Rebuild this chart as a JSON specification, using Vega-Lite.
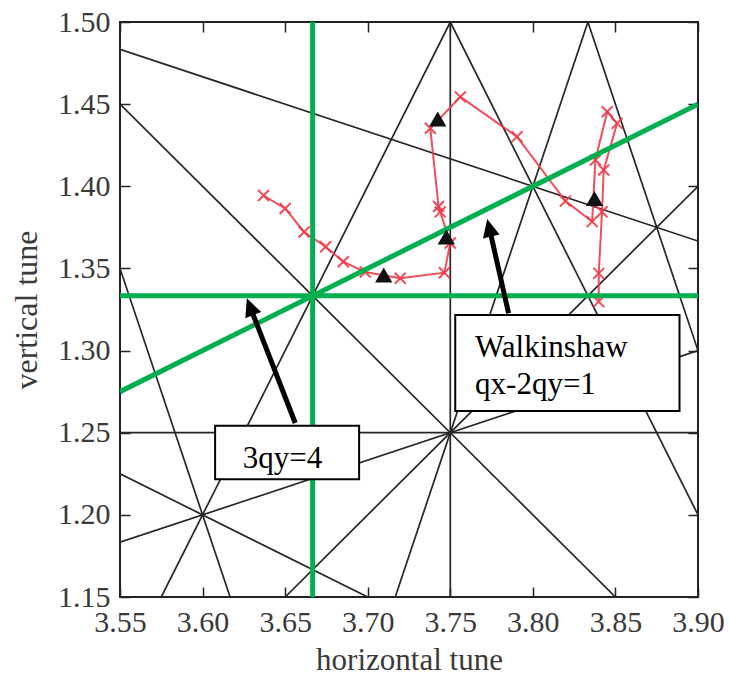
{
  "$schema": "https://vega.github.io/schema/vega-lite/v6.json",
  "width": 578,
  "height": 575,
  "autosize": {"type": "none"},
  "padding": {"left": 120, "top": 22, "right": 31, "bottom": 82},
  "background": "white",
  "config": {"view": {"stroke": "#222", "strokeWidth": 2}, "font": "Liberation Serif"},
  "datasets": {
    "res": [
      {"id": "a", "qx": 3.75, "qy": 1.15}, {"id": "a", "qx": 3.75, "qy": 1.5},
      {"id": "b", "qx": 3.55, "qy": 1.25}, {"id": "b", "qx": 3.9, "qy": 1.25},
      {"id": "c", "qx": 3.55, "qy": 1.483333}, {"id": "c", "qx": 3.9, "qy": 1.366667},
      {"id": "d", "qx": 3.55, "qy": 1.45}, {"id": "d", "qx": 3.85, "qy": 1.15},
      {"id": "e", "qx": 3.575, "qy": 1.15}, {"id": "e", "qx": 3.75, "qy": 1.5},
      {"id": "f", "qx": 3.75, "qy": 1.5}, {"id": "f", "qx": 3.9, "qy": 1.2},
      {"id": "g", "qx": 3.716667, "qy": 1.15}, {"id": "g", "qx": 3.833333, "qy": 1.5},
      {"id": "h", "qx": 3.833333, "qy": 1.5}, {"id": "h", "qx": 3.9, "qy": 1.3},
      {"id": "i", "qx": 3.55, "qy": 1.225}, {"id": "i", "qx": 3.7, "qy": 1.15},
      {"id": "j", "qx": 3.55, "qy": 1.183333}, {"id": "j", "qx": 3.9, "qy": 1.3},
      {"id": "k", "qx": 3.55, "qy": 1.35}, {"id": "k", "qx": 3.616667, "qy": 1.15},
      {"id": "l", "qx": 3.65, "qy": 1.15}, {"id": "l", "qx": 3.9, "qy": 1.4}
    ],
    "green": [
      {"id": "v", "qx": 3.666667, "qy": 1.15}, {"id": "v", "qx": 3.666667, "qy": 1.5},
      {"id": "h", "qx": 3.55, "qy": 1.333333}, {"id": "h", "qx": 3.9, "qy": 1.333333},
      {"id": "w", "qx": 3.55, "qy": 1.275}, {"id": "w", "qx": 3.9, "qy": 1.45}
    ],
    "track": [
      {"i": 1, "qx": 3.6369, "qy": 1.3944},
      {"i": 2, "qx": 3.65, "qy": 1.3865},
      {"i": 3, "qx": 3.6615, "qy": 1.3722},
      {"i": 4, "qx": 3.6745, "qy": 1.3632},
      {"i": 5, "qx": 3.6852, "qy": 1.3541},
      {"i": 6, "qx": 3.6985, "qy": 1.3478},
      {"i": 7, "qx": 3.7197, "qy": 1.344},
      {"i": 8, "qx": 3.7464, "qy": 1.3474},
      {"i": 9, "qx": 3.75, "qy": 1.3655},
      {"i": 10, "qx": 3.7439, "qy": 1.3844},
      {"i": 11, "qx": 3.7429, "qy": 1.3877},
      {"i": 12, "qx": 3.7379, "qy": 1.4353},
      {"i": 13, "qx": 3.7561, "qy": 1.4544},
      {"i": 14, "qx": 3.7904, "qy": 1.4302},
      {"i": 15, "qx": 3.8197, "qy": 1.391},
      {"i": 16, "qx": 3.8359, "qy": 1.3785},
      {"i": 17, "qx": 3.8379, "qy": 1.416},
      {"i": 18, "qx": 3.845, "qy": 1.4454},
      {"i": 19, "qx": 3.851, "qy": 1.4383},
      {"i": 20, "qx": 3.8429, "qy": 1.4099},
      {"i": 21, "qx": 3.8419, "qy": 1.3845},
      {"i": 22, "qx": 3.8399, "qy": 1.347},
      {"i": 23, "qx": 3.8399, "qy": 1.3298}
    ],
    "tri": [
      {"qx": 3.7097, "qy": 1.346},
      {"qx": 3.7476, "qy": 1.3691},
      {"qx": 3.7424, "qy": 1.441},
      {"qx": 3.8373, "qy": 1.3926}
    ],
    "boxes": [
      {"x1": 3.6076, "x2": 3.6948, "y1": 1.2543, "y2": 1.2217},
      {"x1": 3.753, "x2": 3.8888, "y1": 1.3217, "y2": 1.2632}
    ],
    "texts": [
      {"label": "3qy=4", "qx": 3.6244, "qy": 1.2285},
      {"label": "Walkinshaw", "qx": 3.765, "qy": 1.2961},
      {"label": "qx-2qy=1", "qx": 3.765, "qy": 1.2734}
    ],
    "arrows": [
      {"x1": 3.6561, "y1": 1.2559, "x2": 3.6294, "y2": 1.325},
      {"x1": 3.7853, "y1": 1.3227, "x2": 3.774, "y2": 1.373}
    ],
    "head1": [{"qx": 3.6294, "qy": 1.325}],
    "head2": [{"qx": 3.774, "qy": 1.373}]
  },
  "resolve": {"axis": {"x": "independent", "y": "independent"}},
  "layer": [
    {
      "data": {"name": "res"},
      "mark": {"type": "line", "color": "#262626", "strokeWidth": 1.7, "clip": true},
      "encoding": {
        "x": {"field": "qx", "type": "quantitative",
          "scale": {"domain": [3.55, 3.9], "nice": false, "zero": false},
          "axis": {"orient": "bottom", "title": "horizontal tune",
            "values": [3.55, 3.6, 3.65, 3.7, 3.75, 3.8, 3.85, 3.9], "format": ".2f",
            "tickSize": -10, "labelPadding": 20, "domain": false, "grid": false,
            "labelFlush": false, "labelOverlap": false,
            "tickColor": "#222", "tickWidth": 1.5,
            "labelFont": "Liberation Serif", "labelFontSize": 30, "labelColor": "#3a3a3a",
            "titleFont": "Liberation Serif", "titleFontSize": 31, "titleFontWeight": "normal",
            "titleColor": "#3a3a3a", "titlePadding": 8}},
        "y": {"field": "qy", "type": "quantitative",
          "scale": {"domain": [1.15, 1.5], "nice": false, "zero": false},
          "axis": {"orient": "left", "title": "vertical tune",
            "values": [1.15, 1.2, 1.25, 1.3, 1.35, 1.4, 1.45, 1.5], "format": ".2f",
            "tickSize": -10, "labelPadding": 20, "domain": false, "grid": false,
            "labelFlush": false, "labelOverlap": false,
            "tickColor": "#222", "tickWidth": 1.5,
            "labelFont": "Liberation Serif", "labelFontSize": 30, "labelColor": "#3a3a3a",
            "titleFont": "Liberation Serif", "titleFontSize": 32, "titleFontWeight": "normal",
            "titleColor": "#3a3a3a", "titlePadding": 14}},
        "detail": {"field": "id"}
      }
    },
    {
      "data": {"name": "track"},
      "mark": {"type": "line", "color": "#f23a48", "strokeWidth": 2, "opacity": 0.9, "clip": true},
      "encoding": {
        "x": {"field": "qx", "type": "quantitative", "axis": null},
        "y": {"field": "qy", "type": "quantitative", "axis": null},
        "order": {"field": "i"}
      }
    },
    {
      "data": {"name": "track"},
      "mark": {"type": "point", "shape": "M-1,-1L1,1M-1,1L1,-1", "size": 120, "filled": false, "stroke": "#f23a48", "strokeWidth": 2, "opacity": 0.9},
      "encoding": {
        "x": {"field": "qx", "type": "quantitative", "axis": null},
        "y": {"field": "qy", "type": "quantitative", "axis": null}
      }
    },
    {
      "data": {"name": "green"},
      "mark": {"type": "line", "color": "#00b050", "strokeWidth": 5, "clip": true},
      "encoding": {
        "x": {"field": "qx", "type": "quantitative",
          "axis": {"orient": "top", "title": null, "labels": false,
            "values": [3.55, 3.6, 3.65, 3.7, 3.75, 3.8, 3.85, 3.9],
            "tickSize": -10, "domain": false, "grid": false, "tickColor": "#222", "tickWidth": 1.5}},
        "y": {"field": "qy", "type": "quantitative",
          "axis": {"orient": "right", "title": null, "labels": false,
            "values": [1.15, 1.2, 1.25, 1.3, 1.35, 1.4, 1.45, 1.5],
            "tickSize": -10, "domain": false, "grid": false, "tickColor": "#222", "tickWidth": 1.5}},
        "detail": {"field": "id"}
      }
    },
    {
      "data": {"name": "tri"},
      "mark": {"type": "point", "shape": "triangle-up", "size": 300, "filled": true, "color": "#111", "opacity": 1},
      "encoding": {
        "x": {"field": "qx", "type": "quantitative", "axis": null},
        "y": {"field": "qy", "type": "quantitative", "axis": null}
      }
    },
    {
      "data": {"name": "arrows"},
      "mark": {"type": "rule", "color": "black", "strokeWidth": 5},
      "encoding": {
        "x": {"field": "x1", "type": "quantitative", "axis": null},
        "y": {"field": "y1", "type": "quantitative", "axis": null},
        "x2": {"field": "x2"},
        "y2": {"field": "y2"}
      }
    },
    {
      "data": {"name": "head1"},
      "mark": {"type": "point", "shape": "M0,-1.2L0.85,0.6L-0.85,0.6Z", "size": 400, "filled": true, "color": "black", "opacity": 1, "angle": 339},
      "encoding": {
        "x": {"field": "qx", "type": "quantitative", "axis": null},
        "y": {"field": "qy", "type": "quantitative", "axis": null}
      }
    },
    {
      "data": {"name": "head2"},
      "mark": {"type": "point", "shape": "M0,-1.2L0.85,0.6L-0.85,0.6Z", "size": 400, "filled": true, "color": "black", "opacity": 1, "angle": 347},
      "encoding": {
        "x": {"field": "qx", "type": "quantitative", "axis": null},
        "y": {"field": "qy", "type": "quantitative", "axis": null}
      }
    },
    {
      "data": {"name": "boxes"},
      "mark": {"type": "rect", "fill": "white", "stroke": "black", "strokeWidth": 2},
      "encoding": {
        "x": {"field": "x1", "type": "quantitative", "axis": null},
        "x2": {"field": "x2"},
        "y": {"field": "y1", "type": "quantitative", "axis": null},
        "y2": {"field": "y2"}
      }
    },
    {
      "data": {"name": "texts"},
      "mark": {"type": "text", "align": "left", "baseline": "alphabetic", "font": "Liberation Serif", "fontSize": 31, "color": "black"},
      "encoding": {
        "x": {"field": "qx", "type": "quantitative", "axis": null},
        "y": {"field": "qy", "type": "quantitative", "axis": null},
        "text": {"field": "label"}
      }
    }
  ]
}
